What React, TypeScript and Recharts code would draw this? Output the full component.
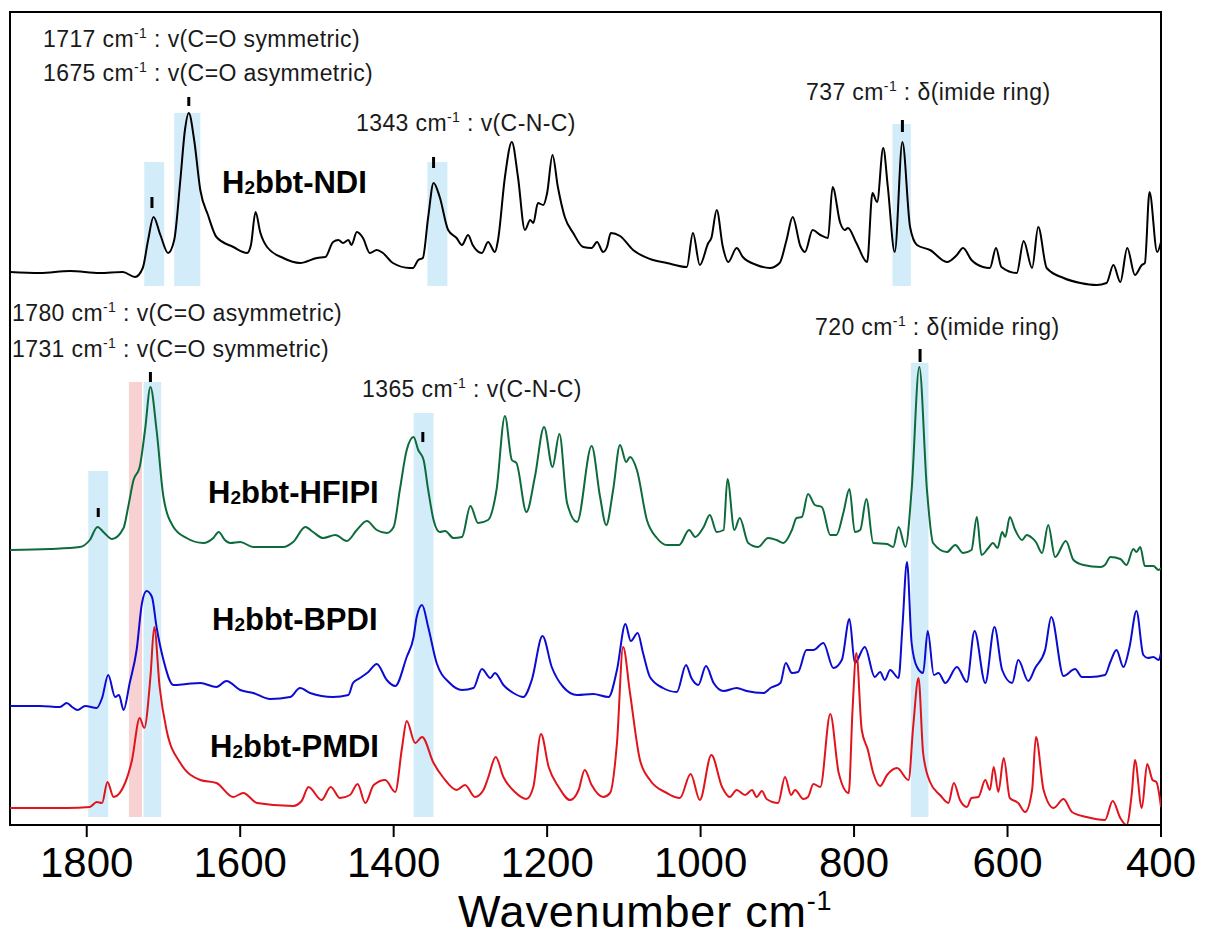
import React from 'react';
import { ComposedChart, Line, XAxis, YAxis, ReferenceArea, ReferenceLine, Customized } from 'recharts';

const FONT = "'Liberation Sans', Arial, Helvetica, sans-serif";

// Wavenumber ticks
const xTicks = [1800, 1600, 1400, 1200, 1000, 800, 600, 400];

// H2bbt-NDI (black)
const ndiW = [1900,1861,1822,1783,1753,1737,1727,1720,1713,1704,1694,1686,1678,1672,1667,1660,1652,1642,1631,1609,1591,1586,1580,1574,1565,1544,1522,1500,1489,1479,1472,1466,1459,1455,1448,1440,1431,1422,1414,1401,1379,1375,1368,1362,1355,1348,1340,1329,1318,1311,1303,1297,1285,1277,1268,1264,1255,1246,1238,1229,1222,1218,1212,1205,1200,1193,1186,1177,1166,1153,1142,1135,1127,1122,1117,1105,1088,1066,1044,1018,1010,1001,990,986,979,971,964,953,945,927,910,897,888,880,870,864,854,844,834,828,818,812,808,797,783,776,770,762,756,747,737,727,718,701,679,666,658,647,632,623,615,608,588,579,568,560,549,527,505,484,471,462,453,444,434,425,421,415,405,400];
const ndiV = [553,552,554,552,553,548,557,585,608,590,572,585,645,695,712,685,635,610,588,578,572,580,613,593,578,567,562,567,568,583,585,582,585,580,593,587,572,575,572,562,557,557,565,567,608,642,628,595,587,580,590,580,572,583,573,585,648,683,648,595,605,602,622,620,632,670,638,608,592,578,577,583,573,578,592,589,575,566,562,558,592,560,582,587,615,578,563,577,568,560,557,562,585,608,579,573,595,590,587,638,602,595,597,582,563,632,623,677,638,573,683,598,580,575,563,570,577,565,558,557,577,558,552,584,557,598,557,547,542,540,542,560,543,577,550,560,562,633,573,583];

// H2bbt-HFIPI (green)
const hfipiW = [1900,1848,1809,1796,1786,1777,1767,1752,1746,1739,1731,1724,1717,1709,1700,1687,1670,1648,1635,1628,1620,1613,1600,1583,1544,1531,1515,1505,1492,1476,1461,1448,1435,1422,1409,1400,1392,1383,1374,1368,1361,1355,1348,1340,1333,1322,1311,1300,1290,1277,1266,1255,1246,1240,1227,1216,1204,1193,1184,1174,1161,1142,1131,1123,1114,1105,1097,1092,1083,1070,1057,1044,1028,1015,1007,996,988,979,970,965,956,949,938,925,912,901,892,881,875,868,860,851,842,831,823,814,806,799,792,784,775,757,749,742,733,725,715,705,697,679,668,658,647,640,634,625,619,613,607,603,597,590,581,575,568,563,555,547,538,524,514,501,479,473,466,453,445,436,432,427,421,410,403,400];
const hfipiV = [275,276,278,285,298,292,286,297,318,345,358,395,438,395,328,298,287,282,287,293,285,282,283,278,278,283,298,293,287,290,284,295,304,295,292,298,335,375,388,375,365,335,305,293,294,287,288,319,302,305,335,409,365,362,313,348,398,358,391,322,303,379,328,300,335,380,363,368,355,305,287,280,280,295,288,298,310,293,295,346,295,307,282,278,287,285,282,295,307,308,331,320,318,290,290,312,336,293,295,326,282,281,278,298,278,335,458,335,282,273,280,272,275,308,270,277,282,277,293,288,308,295,285,290,287,283,272,300,268,284,265,260,258,260,268,266,260,276,273,278,259,259,255,257];

// H2bbt-BPDI (blue)
const bpdiW = [1900,1861,1835,1826,1819,1812,1802,1787,1780,1772,1763,1758,1752,1744,1735,1728,1722,1715,1709,1700,1687,1670,1652,1631,1618,1600,1583,1561,1535,1522,1509,1479,1459,1453,1444,1433,1422,1409,1398,1383,1374,1370,1363,1355,1344,1327,1311,1296,1285,1274,1268,1257,1244,1231,1220,1206,1194,1179,1161,1140,1120,1109,1098,1091,1082,1075,1066,1049,1031,1019,1012,1003,993,983,970,953,940,918,909,896,889,881,873,862,853,840,827,816,806,799,786,773,766,760,753,742,737,731,725,718,710,704,696,690,681,666,653,643,629,617,607,594,586,573,564,551,543,527,512,503,492,473,466,458,449,441,432,423,417,410,403,400];
const bpdiV = [119,119,118,122,118,115,119,117,127,150,128,130,115,142,175,222,234,228,198,165,140,141,142,138,144,135,132,126,128,137,132,128,130,142,147,153,161,145,139,168,188,208,220,198,162,142,135,137,156,147,152,140,132,128,145,189,158,138,130,131,128,155,201,184,192,172,148,137,133,160,147,140,159,142,134,137,134,132,137,142,162,152,153,175,175,182,157,165,206,162,178,148,153,145,155,147,198,263,182,158,152,194,150,152,142,158,143,194,142,198,155,142,165,144,157,175,208,149,156,148,148,150,163,175,158,178,214,170,167,168,165,172];

// H2bbt-PMDI (red)
const pmdiW = [1900,1861,1826,1796,1787,1780,1773,1765,1750,1741,1731,1725,1717,1712,1705,1696,1678,1652,1631,1609,1596,1578,1531,1520,1511,1494,1482,1470,1457,1447,1437,1426,1411,1398,1389,1383,1372,1363,1348,1335,1318,1307,1294,1283,1277,1267,1257,1242,1227,1218,1208,1198,1185,1170,1159,1151,1142,1127,1118,1109,1101,1092,1079,1066,1044,1027,1013,1001,986,972,962,953,942,933,927,920,914,899,890,882,877,866,860,853,844,831,820,807,802,797,790,782,775,766,757,744,729,723,716,710,701,688,677,670,662,653,647,638,629,623,618,612,605,597,586,577,568,563,553,540,527,516,497,473,463,453,445,438,434,425,418,411,406,400];
const pmdiV = [17,17,17,18,23,22,43,28,42,65,107,97,148,198,138,95,62,45,42,28,32,22,19,24,38,25,38,27,30,41,22,40,45,33,78,104,82,88,62,47,35,40,28,35,47,68,48,33,26,38,91,58,38,25,35,55,40,28,32,82,178,132,65,45,32,27,51,25,70,38,28,35,30,35,28,34,26,22,48,30,35,26,28,41,38,111,52,32,115,172,95,75,52,39,50,57,45,98,147,72,43,30,22,42,25,18,27,28,45,35,58,33,67,27,22,13,35,88,35,17,26,13,8,5,24,7,0,32,65,17,61,45,43,18];

// Highlight bands: wavenumber range and intensity range
const blueBands = [
  { from: 1725, to: 1699, lo: 539, hi: 663 },
  { from: 1686, to: 1652, lo: 539, hi: 712 },
  { from: 1356, to: 1330, lo: 539, hi: 663 },
  { from: 750, to: 726, lo: 539, hi: 701 },
  { from: 1798, to: 1772, lo: 8, hi: 354 },
  { from: 1726, to: 1703, lo: 8, hi: 443 },
  { from: 1374, to: 1348, lo: 8, hi: 412 },
  { from: 726, to: 703, lo: 8, hi: 462 },
];
const pinkBands = [{ from: 1745, to: 1728, lo: 8, hi: 443 }];

// Peak marks
const marks = [
  { w: 1715, lo: 617, hi: 628 },
  { w: 1667, lo: 719, hi: 728 },
  { w: 1348, lo: 657, hi: 668 },
  { w: 737, lo: 693, hi: 705 },
  { w: 1785, lo: 308, hi: 317 },
  { w: 1717, lo: 443, hi: 453 },
  { w: 1362, lo: 383, hi: 393 },
  { w: 714, lo: 463, hi: 476 },
];

const toPoints = (ws: number[], vs: number[]) => ws.map((w, i) => ({ w, v: vs[i] }));
const ndiData = toPoints(ndiW, ndiV);
const hfipiData = toPoints(hfipiW, hfipiV);
const bpdiData = toPoints(bpdiW, bpdiV);
const pmdiData = toPoints(pmdiW, pmdiV);

const XTick = (props: any) => {
  const { x, y, payload } = props;
  return (
    <text x={x} y={y + 38} textAnchor="middle" fontSize={42} fontFamily={FONT} fill="#000">
      {payload.value}
    </text>
  );
};

const Note = ({ x, y, num, rest }: { x: number; y: number; num: string; rest: string }) => (
  <text x={x} y={y} fontSize={23} letterSpacing={0.4} fontFamily={FONT} fill="#1a1a1a">
    {num} cm<tspan dy={-9} fontSize={14}>-1</tspan>
    <tspan dy={9}> : {rest}</tspan>
  </text>
);

const CurveLabel = ({ x, y, name }: { x: number; y: number; name: string }) => (
  <text x={x} y={y} fontSize={31} fontWeight="bold" fontFamily={FONT} fill="#000">
    H<tspan fontSize={19} dy={1}>2</tspan>
    <tspan dy={-1}>{name}</tspan>
  </text>
);

const Overlay = () => (
  <g>
    <Note x={35} y={39} num="1717" rest="v(C=O symmetric)" />
    <Note x={35} y={73} num="1675" rest="v(C=O asymmetric)" />
    <Note x={348} y={123} num="1343" rest="v(C-N-C)" />
    <Note x={798} y={92} num="737" rest="δ(imide ring)" />
    <Note x={4} y={313} num="1780" rest="v(C=O asymmetric)" />
    <Note x={4} y={349} num="1731" rest="v(C=O symmetric)" />
    <Note x={354} y={389} num="1365" rest="v(C-N-C)" />
    <Note x={807} y={327} num="720" rest="δ(imide ring)" />
    <CurveLabel x={214} y={185} name="bbt-NDI" />
    <CurveLabel x={200} y={495} name="bbt-HFIPI" />
    <CurveLabel x={204} y={622} name="bbt-BPDI" />
    <CurveLabel x={202} y={749} name="bbt-PMDI" />
    <text x={450} y={919} fontSize={45} letterSpacing={0.8} fontFamily={FONT} fill="#000">
      Wavenumber cm<tspan dy={-17} fontSize={27}>-1</tspan>
    </text>
  </g>
);

export default function App() {
  return (
    <ComposedChart width={1190} height={930} margin={{ top: 4, right: 37, bottom: 23, left: 2 }}>
      <XAxis
        dataKey="w"
        type="number"
        domain={[400, 1900]}
        reversed
        allowDataOverflow
        ticks={xTicks}
        tickSize={12}
        height={90}
        stroke="#000"
        strokeWidth={2}
        tickLine={{ stroke: '#000', strokeWidth: 2 }}
        tick={<XTick />}
      />
      <YAxis hide type="number" domain={[0, 813]} allowDataOverflow />
      {blueBands.map((b, i) => (
        <ReferenceArea key={'b' + i} x1={b.from} x2={b.to} y1={b.lo} y2={b.hi} fill="#d3ecfa" fillOpacity={1} stroke="none" />
      ))}
      {pinkBands.map((b, i) => (
        <ReferenceArea key={'p' + i} x1={b.from} x2={b.to} y1={b.lo} y2={b.hi} fill="#f8d2d2" fillOpacity={1} stroke="none" />
      ))}
      <Line data={ndiData} dataKey="v" type="monotone" stroke="#000" strokeWidth={2} dot={false} activeDot={false} isAnimationActive={false} />
      <Line data={hfipiData} dataKey="v" type="monotone" stroke="#0d6b3b" strokeWidth={2} dot={false} activeDot={false} isAnimationActive={false} />
      <Line data={bpdiData} dataKey="v" type="monotone" stroke="#0b0bd2" strokeWidth={2} dot={false} activeDot={false} isAnimationActive={false} />
      <Line data={pmdiData} dataKey="v" type="monotone" stroke="#e0141c" strokeWidth={2} dot={false} activeDot={false} isAnimationActive={false} />
      {marks.map((m, i) => (
        <ReferenceLine key={'m' + i} segment={[{ x: m.w, y: m.lo }, { x: m.w, y: m.hi }]} stroke="#000" strokeWidth={3} />
      ))}
      <ReferenceArea x1={1900} x2={400} y1={0} y2={813} fill="none" stroke="#000" strokeWidth={2} />
      <Customized component={Overlay} />
    </ComposedChart>
  );
}
